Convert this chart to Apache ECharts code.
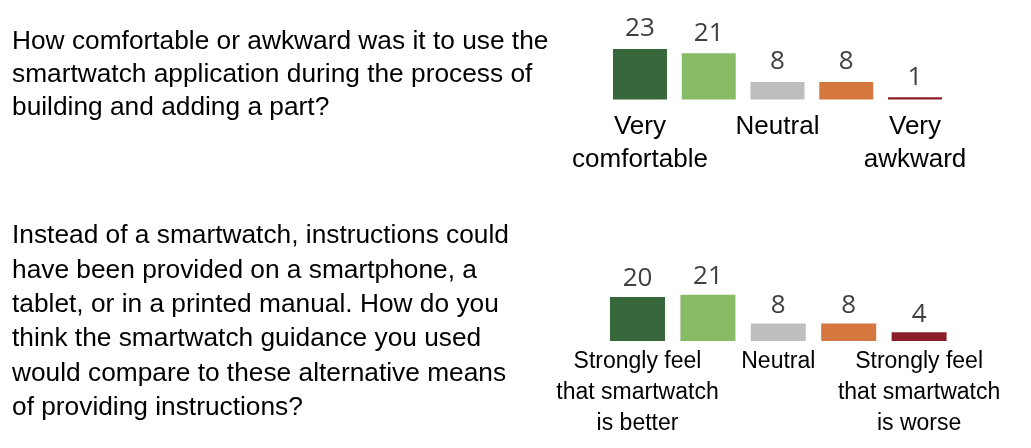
<!DOCTYPE html>
<html>
<head>
<meta charset="utf-8">
<script src="https://cdn.jsdelivr.net/npm/echarts@6/dist/echarts.min.js"></script>
<style>
  html, body { margin: 0; padding: 0; background: #fff; }
  #chart { width: 1031px; height: 448px; }
</style>
</head>
<body>
<div id="chart"></div>
<script>
// 5-point scale, one bar per point
const scalePoints = ['1', '2', '3', '4', '5']
const comfortValues = [23, 21, 8, 8, 1]
const compareValues = [20, 21, 8, 8, 4]
const comfortTickLabels = ['Very\ncomfortable', '', 'Neutral', '', 'Very\nawkward']
const compareTickLabels = ['Strongly feel\nthat smartwatch\nis better', '', 'Neutral', '', 'Strongly feel\nthat smartwatch\nis worse']
const barColors = ['#38673B', '#88BB66', '#BFBEBE', '#D5783F', '#8C1E29']
const question1 = 'How comfortable or awkward was it to use the\nsmartwatch application during the process of\nbuilding and adding a part?'
const question2 = 'Instead of a smartwatch, instructions could\nhave been provided on a smartphone, a\ntablet, or in a printed manual. How do you\nthink the smartwatch guidance you used\nwould compare to these alternative means\nof providing instructions?'

const textFont = '"Liberation Sans", Arial, sans-serif'
const numFont = '"Open Sans", "Noto Sans", sans-serif'

let chart = echarts.init(document.getElementById('chart'))

const makeX = (gridIndex, labels, size, lineHeight, margin) => ({
  type: 'category',
  gridIndex: gridIndex,
  data: scalePoints,
  axisLine: { show: false },
  axisTick: { show: false },
  axisLabel: {
    interval: 0,
    margin: margin,
    color: '#000',
    fontFamily: textFont,
    fontSize: size,
    lineHeight: lineHeight,
    formatter: (v, i) => labels[i]
  }
})

const makeY = (gridIndex) => ({
  type: 'value',
  gridIndex: gridIndex,
  min: 0,
  max: 25,
  show: false,
  splitLine: { show: false }
})

const makeBar = (idx, values, width, dist) => ({
  type: 'bar',
  xAxisIndex: idx,
  yAxisIndex: idx,
  barWidth: width,
  data: values.map((v, i) => ({ value: v, itemStyle: { color: barColors[i] } })),
  label: {
    show: true,
    position: 'top',
    distance: dist,
    color: '#404040',
    fontFamily: numFont,
    fontSize: 26
  },
  silent: true
})

let option = {
  animation: false,
  grid: [
    { left: 605.6, right: 81.6, top: 44.5, bottom: 348.5 },
    { left: 602.3, right: 76.7, top: 286, bottom: 107 }
  ],
  xAxis: [
    makeX(0, comfortTickLabels, 26, 33, 11),
    makeX(1, compareTickLabels, 23, 31, 5)
  ],
  yAxis: [makeY(0), makeY(1)],
  series: [
    makeBar(0, comfortValues, 54, 7),
    makeBar(1, compareValues, 55, 5)
  ],
  graphic: [
    {
      type: 'text',
      left: 12,
      top: 25,
      style: { text: question1, fill: '#000', font: '26.3px ' + textFont, lineHeight: 33 }
    },
    {
      type: 'text',
      left: 12,
      top: 219,
      style: { text: question2, fill: '#000', font: '26.3px ' + textFont, lineHeight: 34.3 }
    }
  ]
}

chart.setOption(option)
</script>
</body>
</html>
